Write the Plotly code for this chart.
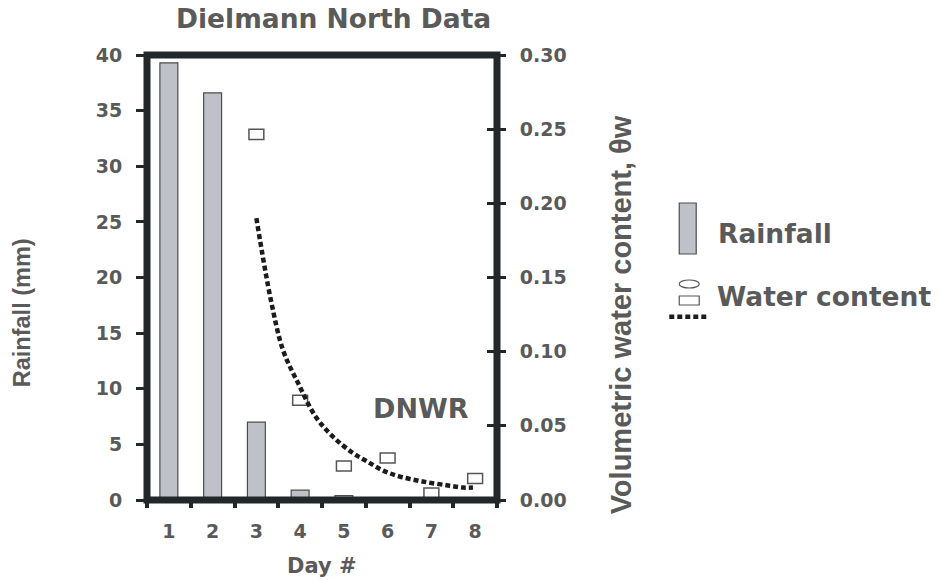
import plotly.graph_objects as go

# ---- data ----
days = [1, 2, 3, 4, 5, 6, 7, 8]
rainfall_mm = [39.3, 36.6, 7.0, 0.88, 0.40, 0.0, 0.0, 0.0]
water_days = [3, 4, 5, 6, 7, 8]
water_content = [0.2465, 0.0673, 0.0229, 0.0283, 0.0047, 0.0145]
fit_days = [3.0, 3.33, 3.61, 3.95, 4.36, 4.75, 5.19, 5.53, 5.9, 6.28, 6.8, 7.38, 7.72, 7.95]
fit_values = [0.190, 0.135, 0.101, 0.079, 0.056, 0.0427, 0.032, 0.026, 0.0198, 0.0158,
              0.0125, 0.0098, 0.0084, 0.0084]
left_ticks = [0, 5, 10, 15, 20, 25, 30, 35, 40]
right_ticks = [0.00, 0.05, 0.10, 0.15, 0.20, 0.25, 0.30]
boundary_ticks = [0.5, 1.5, 2.5, 3.5, 4.5, 5.5, 6.5, 7.5, 8.5]

# ---- styles ----
FRAME = "#222829"
TXT = "#5a5a5a"
BAR_FILL = "#bec2c8"
BAR_LINE = "#4d4d4d"
BOLD = "DejaVu Sans"
NARROW = "Liberation Sans, Arial"
BOX_H = 0.0068
BOX_W = 0.34

fig = go.Figure()

fig.add_trace(go.Bar(
    x=days, y=rainfall_mm, width=0.41, offset=-0.205,
    marker=dict(color=BAR_FILL, line=dict(color=BAR_LINE, width=1.2)),
    xaxis="x", yaxis="y", showlegend=False, hoverinfo="x+y"))

fig.add_trace(go.Bar(
    x=water_days, y=[BOX_H] * len(water_content),
    base=[v - BOX_H / 2 for v in water_content],
    width=BOX_W, offset=-BOX_W / 2,
    marker=dict(color="white", line=dict(color="#555555", width=1.5)),
    xaxis="x", yaxis="y2", showlegend=False,
    customdata=water_content, hovertemplate="Day %{x}: %{customdata}<extra></extra>"))

fig.add_trace(go.Scatter(
    x=fit_days, y=fit_values, mode="lines",
    line=dict(color="#1c1c1c", width=4.5, dash="5px,3px", shape="spline"),
    xaxis="x", yaxis="y2", showlegend=False, hoverinfo="skip"))

# invisible helpers so the overlay axes render
fig.add_trace(go.Scatter(x=[1], y=[0], mode="markers", marker=dict(opacity=0),
                         xaxis="x2", yaxis="y", showlegend=False, hoverinfo="skip"))
fig.add_trace(go.Scatter(x=[1], y=[0], mode="markers", marker=dict(opacity=0),
                         xaxis="x", yaxis="y3", showlegend=False, hoverinfo="skip"))

tickfont = dict(family=BOLD, size=19, color=TXT, weight="bold")

fig.update_layout(
    width=940, height=580,
    margin=dict(l=147, r=443, t=55, b=80),
    paper_bgcolor="white", plot_bgcolor="white",
    barmode="overlay",
    xaxis=dict(range=[0.5, 8.5], tickvals=days, ticktext=[str(d) for d in days],
               ticks="", showgrid=False, zeroline=False, showline=False,
               tickfont=tickfont, ticklabelstandoff=18),
    xaxis2=dict(range=[0.5, 8.5], overlaying="x", anchor="y", side="bottom",
                tickvals=boundary_ticks, ticks="outside", ticklen=7, tickwidth=4,
                tickcolor=FRAME, showticklabels=False, showgrid=False,
                zeroline=False, showline=False),
    yaxis=dict(range=[0, 40], tickvals=left_ticks, ticks="outside", ticklen=10,
               tickwidth=3, tickcolor=FRAME, showgrid=False, zeroline=False,
               showline=False, tickfont=tickfont, ticklabelstandoff=10),
    yaxis2=dict(range=[0, 0.30], overlaying="y", side="right", anchor="x",
                tickvals=right_ticks, tickformat=".2f", ticks="outside", ticklen=8,
                tickwidth=3, tickcolor=FRAME, showgrid=False, zeroline=False,
                showline=False, tickfont=tickfont, ticklabelstandoff=10),
    yaxis3=dict(range=[0, 0.30], overlaying="y", side="right", anchor="x",
                tickvals=right_ticks, ticks="inside", ticklen=10, tickwidth=3,
                tickcolor=FRAME, showticklabels=False, showgrid=False,
                zeroline=False, showline=False),
)

# frame
fig.add_shape(type="rect", xref="paper", yref="paper", x0=0, x1=1, y0=0, y1=1,
              line=dict(color=FRAME, width=7), layer="above")

# legend (drawn manually)
fig.add_shape(type="rect", xref="paper", yref="paper", x0=1.5207, x1=1.5692,
              y0=0.5528, y1=0.6674, fillcolor=BAR_FILL,
              line=dict(color=BAR_LINE, width=1.2))
fig.add_shape(type="circle", xref="paper", yref="paper", x0=1.5207, x1=1.5778,
              y0=0.4764, y1=0.4944, fillcolor="white",
              line=dict(color="#555555", width=1.2))
fig.add_shape(type="rect", xref="paper", yref="paper", x0=1.5207, x1=1.5778,
              y0=0.4382, y1=0.4584, fillcolor="white",
              line=dict(color="#555555", width=1.2))
fig.add_shape(type="line", xref="paper", yref="paper", x0=1.4922, x1=1.6063,
              y0=0.4119, y1=0.4119, line=dict(color="#1c1c1c", width=4.5, dash="5px,3px"))

def ann(text, x, y, size, family=BOLD, angle=0, xanchor="center", weight="bold"):
    fig.add_annotation(text=text, xref="paper", yref="paper", x=x, y=y,
                       showarrow=False, textangle=angle, xanchor=xanchor,
                       yanchor="middle",
                       font=dict(family=family, size=size, color=TXT, weight=weight))

ann("Dielmann North Data", 0.5335, 1.0831, 26.5)
ann("DNWR", 0.7817, 0.2045, 27)
ann("Day #", 0.4993, -0.1483, 21)
ann("Rainfall", 1.6262, 0.600, 26.5, xanchor="left")
ann("Water content", 1.6234, 0.4562, 26.5, xanchor="left")
ann("Rainfall (mm)", -0.3566, 0.4202, 23.5, family=NARROW, angle=-90)
ann("Volumetric water content, θw", 1.3552, 0.4157, 29, family=NARROW, angle=-90)

fig.write_html("out.html")
